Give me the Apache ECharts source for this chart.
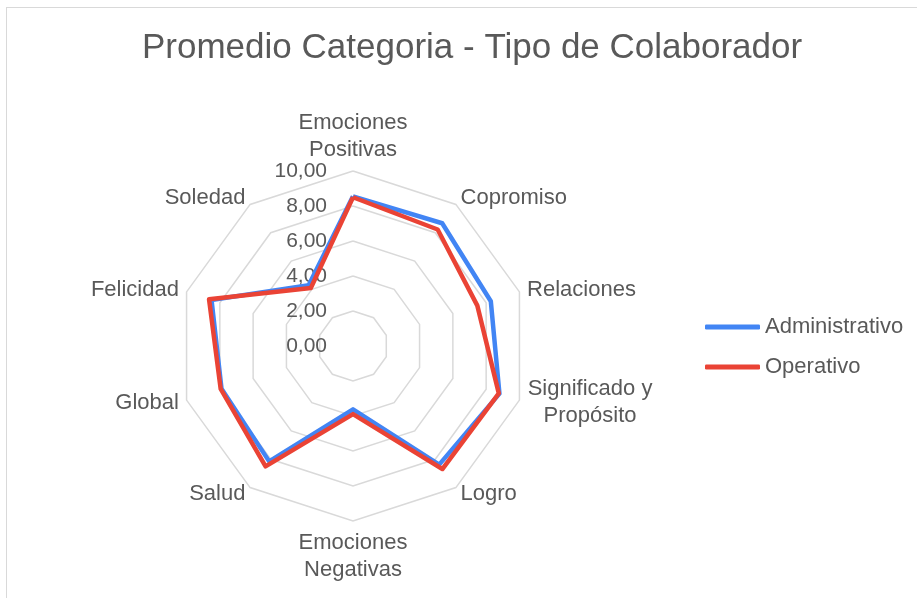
<!DOCTYPE html>
<html>
<head>
<meta charset="utf-8">
<script src="https://cdn.jsdelivr.net/npm/echarts@6/dist/echarts.min.js"></script>
<style>
	html, body { margin: 0; padding: 0; background: #fff; }
	#frame { position: absolute; left: 6px; top: 7px; width: 911px; height: 591px; border-top: 1.5px solid #d9d9d9; border-left: 1.5px solid #d9d9d9; }
	#main { position: absolute; left: 0; top: 0; width: 917px; height: 598px; }
</style>
</head>
<body>
<div id="frame"></div>
<div id="main"></div>
<script>
// categorias del radar (en sentido horario desde arriba)
const categorias = ['Emociones\nPositivas', 'Copromiso', 'Relaciones', 'Significado y\nPropósito', 'Logro',
	'Emociones\nNegativas', 'Salud', 'Global', 'Felicidad', 'Soledad'];
const administrativo = [8.55, 8.67, 8.28, 8.8, 8.38, 3.62, 8.15, 7.9, 8.5, 4.3];
const operativo = [8.5, 8.23, 7.47, 8.76, 8.69, 3.89, 8.5, 7.95, 8.65, 4.1];
const escalaMin = 0;
const escalaMax = 10;
const paso = 2;

// echarts dibuja el radar en sentido antihorario, se invierte el orden
const horario = arr => [arr[0]].concat(arr.slice(1).reverse());

const gris = '#595959';
const chart = echarts.init(document.getElementById('main'));
const option = {
	animation: false,
	textStyle: { fontFamily: 'Liberation Sans, Arial, sans-serif' },
	title: {
		text: 'Promedio Categoria - Tipo de Colaborador',
		left: 137,
		top: 26,
		textStyle: { fontSize: 35, fontWeight: 'normal', color: gris }
	},
	legend: {
		orient: 'vertical',
		left: 700,
		top: 311,
		itemWidth: 55,
		itemHeight: 5,
		itemGap: 18,
		icon: 'roundRect',
		textStyle: { fontSize: 22, color: gris },
		data: ['Administrativo', 'Operativo']
	},
	radar: {
		center: [353, 346],
		radius: 175,
		startAngle: 90,
		shape: 'polygon',
		splitNumber: (escalaMax - escalaMin) / paso,
		nameGap: 8,
		axisName: {
			color: gris,
			fontSize: 22,
			lineHeight: 27,
			// nombres de dos lineas centrados como en excel
			formatter: name => name.indexOf('\n') < 0 ? name
				: name.split('\n').map(l => '{c|' + l + '}').join('\n'),
			rich: { c: { width: 126, align: 'center', fontSize: 22, lineHeight: 27, color: gris } }
		},
		axisLine: { show: false },
		axisTick: { show: false },
		axisLabel: { show: false },
		splitArea: { show: false },
		splitLine: { lineStyle: { color: '#d9d9d9', width: 1.5 } },
		indicator: horario(categorias).map(c => ({ name: c, min: escalaMin, max: escalaMax }))
	},
	// eje de valores (solo etiquetas)
	polar: { center: [353, 346], radius: 175 },
	angleAxis: { show: false, startAngle: 90, min: 0, max: 360 },
	radiusAxis: {
		min: escalaMin,
		max: escalaMax,
		interval: paso,
		axisLine: { show: false },
		axisTick: { show: false },
		splitLine: { show: false },
		axisLabel: {
			margin: 26,
			fontSize: 21,
			color: gris,
			formatter: v => v.toFixed(2).replace('.', ',')
		}
	},
	series: [{
		type: 'radar',
		symbol: 'none',
		data: [{
			name: 'Administrativo',
			value: horario(administrativo),
			itemStyle: { color: '#4285f4' },
			lineStyle: { color: '#4285f4', width: 4.5 }
		}, {
			name: 'Operativo',
			value: horario(operativo),
			itemStyle: { color: '#ea4335' },
			lineStyle: { color: '#ea4335', width: 4.5 }
		}]
	}]
};
chart.setOption(option);
</script>
</body>
</html>
